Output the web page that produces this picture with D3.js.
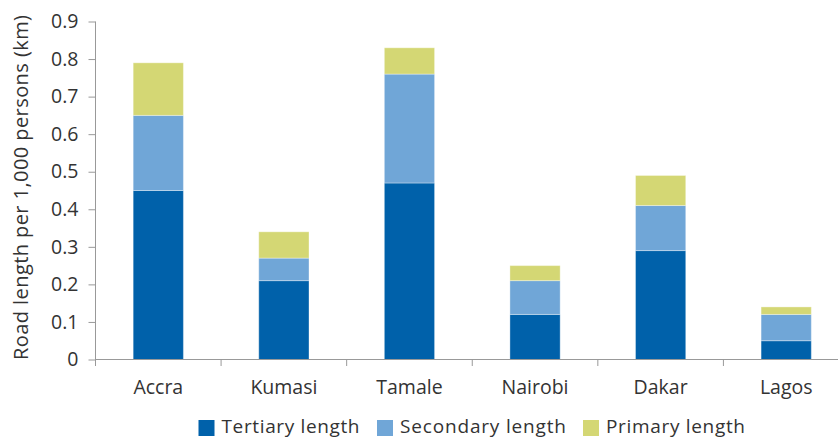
<!DOCTYPE html>
<html><head><meta charset="utf-8">
<script src="https://cdn.jsdelivr.net/npm/d3@7"></script>
<style>
body{margin:0;background:#fff;}
text{font-family:"Open Sans",sans-serif;fill:#333;}
</style></head>
<body>
<svg id="c" width="838" height="438"></svg>
<script>
const categories = ["Accra","Kumasi","Tamale","Nairobi","Dakar","Lagos"];
const tertiary  = [0.45,0.21,0.47,0.12,0.29,0.05];
const secondary = [0.20,0.06,0.29,0.09,0.12,0.07];
const primary   = [0.14,0.07,0.07,0.04,0.08,0.02];
const seriesNames = ["Tertiary length","Secondary length","Primary length"];
const yTicks = [0,0.1,0.2,0.3,0.4,0.5,0.6,0.7,0.8,0.9];
const colors = ["#0061aa","#70a6d7","#d4d774"];

const svg = d3.select("#c");
const x = d3.scaleBand().domain(categories).range([95.5, 849]);
const y = d3.scaleLinear().domain([0,0.9]).range([359.5, 21.5]);

const rows = categories.map((c,i)=>({cat:c, t:tertiary[i], s:secondary[i], p:primary[i]}));
const stack = d3.stack().keys(["t","s","p"])(rows);

const bw = x.bandwidth()*0.4;
stack.forEach((layer,k)=>{
  svg.append("g").selectAll("rect").data(layer).enter().append("rect")
    .attr("x", d=>x(d.data.cat)+x.bandwidth()/2-bw/2)
    .attr("width", bw)
    .attr("y", d=>y(d[1]))
    .attr("height", d=>y(d[0])-y(d[1]))
    .attr("fill", colors[k])
    .attr("stroke","rgba(255,255,255,0.35)")
    .attr("stroke-width",1);
});

// y axis
const ya = svg.append("g").attr("transform","translate(95.5,0)")
  .call(d3.axisLeft(y).tickValues(yTicks).tickSize(7).tickPadding(10)
    .tickFormat(d=>d===0?"0":d3.format(".1f")(d)));
ya.select(".domain").attr("stroke","#999").attr("d","M0,21.5V366");
ya.selectAll(".tick line").attr("stroke","#999");
ya.selectAll(".tick text").style("font-size","19.5px").attr("fill","#333");

// x axis
const xa = svg.append("g").attr("transform","translate(0,359.5)")
  .call(d3.axisBottom(x).tickSize(0).tickPadding(0));
xa.select(".domain").attr("stroke","#999").attr("d","M95.5,0H849");
xa.selectAll(".tick text").style("font-size","19.5px").attr("fill","#333").attr("dy",null).attr("y",34.5);
// boundary ticks between categories
svg.append("g").selectAll("line").data(categories.slice(1)).enter().append("line")
  .attr("x1",d=>x(d)).attr("x2",d=>x(d)).attr("y1",359.5).attr("y2",366)
  .attr("stroke","#999");

// y title
svg.append("text").attr("transform","translate(27.5,187.5) rotate(-90)")
  .attr("text-anchor","middle").style("font-size","20px")
  .attr("textLength",345).attr("lengthAdjust","spacing")
  .text("Road length per 1,000 persons (km)");

// legend
const legX = [198.5, 377, 583];
const legLen = [138, 166, 139];
const leg = svg.append("g");
seriesNames.forEach((n,i)=>{
  leg.append("rect").attr("x",legX[i]).attr("y",420).attr("width",16).attr("height",16).attr("fill",colors[i]);
  leg.append("text").attr("x",legX[i]+23).attr("y",433).style("font-size","19px")
    .attr("textLength",legLen[i]).attr("lengthAdjust","spacing").text(n);
});
</script>
</body></html>
